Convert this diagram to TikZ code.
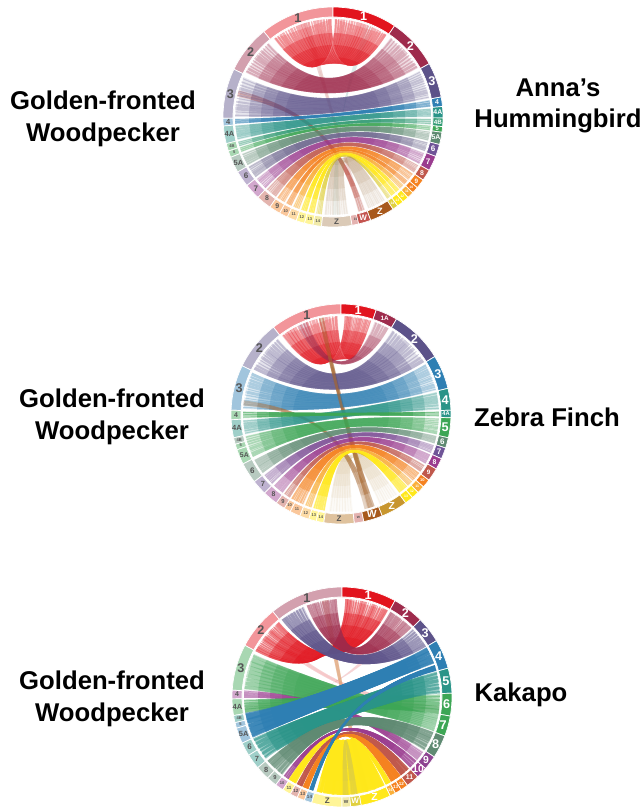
\documentclass[tikz,border=0pt]{standalone}
\usepackage{fontspec}
\setmainfont{Liberation Sans}
\definecolor{cred}{HTML}{E2141E}
\definecolor{cmar}{HTML}{9E2B4C}
\definecolor{cpur}{HTML}{5C5289}
\definecolor{cblu}{HTML}{2E7FB3}
\definecolor{cteal}{HTML}{2A9488}
\definecolor{cgrn}{HTML}{3DA655}
\definecolor{cgg}{HTML}{5F8A72}
\definecolor{cvio}{HTML}{6F5497}
\definecolor{cmag}{HTML}{9A3C8F}
\definecolor{crus}{HTML}{C0584C}
\definecolor{cora}{HTML}{F58220}
\definecolor{camb}{HTML}{FAAF3A}
\definecolor{cyel}{HTML}{FFE81A}
\definecolor{colv}{HTML}{E0D040}
\definecolor{cbro}{HTML}{A8591C}
\definecolor{cgold}{HTML}{C8962E}
\definecolor{ctan}{HTML}{B08A60}
\definecolor{cpea}{HTML}{E0A070}
\definecolor{cW}{HTML}{C4544F}
\definecolor{csea}{HTML}{8FC8C0}
\definecolor{ctxt}{HTML}{555555}
\tikzset{
  segshape/.style={draw=white,line width=.7pt},
  seglabel/.style={inner sep=0pt,font=\bfseries},
  birdname/.style={align=center,font=\fontsize{25.7}{31.5}\selectfont\bfseries,text=black,inner sep=0pt},
}
\newcommand{\segs}[4]{%
  \foreach \segA/\segB/\segC/\segT/\segF [count=\segN] in {#4}{
    \pgfmathsetmacro\segG{\segF*1.15}
    \fill[fill=\segC!#2,segshape] ({90-(\segA)}:110) arc[start angle={90-(\segA)},end angle={90-(\segB)},radius=110]
      -- ({90-(\segB)}:100) arc[start angle={90-(\segB)},end angle={90-(\segA)},radius=100] -- cycle;
    \node[seglabel,text=#3,font=\fontsize{\segG}{\segG}\selectfont\bfseries] (#1\segN) at ({90-(\segA+\segB)/2}:105) {\segT};
  }}
\def\ribE{.7}\def\ribC{3.2}\def\ribB{.6}\def\ribR{25}
\newcommand{\bandpath}[4]{({90-(#1)}:98) -- ({90-(#2)}:98)
      .. controls ({90-(#2)}:\ribR) and ({90-(#4)}:\ribR) .. ({90-(#4)}:98)
      -- ({90-(#3)}:98)
      .. controls ({90-(#3)}:\ribR) and ({90-(#1)}:\ribR) .. cycle}
\newcommand{\bund}[7]{%
  \pgfmathsetmacro\rOp{#7*\ribB}
  \fill[#5,opacity=\rOp] \bandpath{#1}{#2}{#3}{#4};
  \foreach \rR in {84,72,60,48}{
    \begin{scope}
      \clip (0,0) circle[radius=\rR];
      \fill[#5,opacity=#7] \bandpath{#1}{#2}{#3}{#4};
    \end{scope}
  }
  \foreach \i in {1,...,#6}{
    \pgfmathsetmacro\rT{(\i-.5)/#6}
    \pgfmathsetmacro\rH{.5/#6}
    \pgfmathsetmacro\rE{\rH*\ribE*(.3+1.4*rnd)}
    \pgfmathsetmacro\rC{\rH*\ribC}
    \pgfmathsetmacro\rAa{#1+(#2-(#1))*(\rT-\rE)}
    \pgfmathsetmacro\rAb{#1+(#2-(#1))*(\rT+\rE)}
    \pgfmathsetmacro\rCa{#1+(#2-(#1))*max(\rT-\rC,0)}
    \pgfmathsetmacro\rCb{#1+(#2-(#1))*min(\rT+\rC,1)}
    \pgfmathsetmacro\rBa{#3+(#4-(#3))*(\rT-\rE)}
    \pgfmathsetmacro\rBb{#3+(#4-(#3))*(\rT+\rE)}
    \pgfmathsetmacro\rDa{#3+(#4-(#3))*max(\rT-\rC,0)}
    \pgfmathsetmacro\rDb{#3+(#4-(#3))*min(\rT+\rC,1)}
    \fill[#5,opacity=#7] ({90-(\rAa)}:98) -- ({90-(\rAb)}:98)
      .. controls ({90-(\rCb)}:\ribR) and ({90-(\rDb)}:\ribR) .. ({90-(\rBb)}:98)
      -- ({90-(\rBa)}:98)
      .. controls ({90-(\rDa)}:\ribR) and ({90-(\rCa)}:\ribR) .. cycle;
  }}
\begin{document}
\begin{tikzpicture}[x=1pt,y=1pt]
\useasboundingbox (0,0) rectangle (643,807);
\fill[white] (0,0) rectangle (643,807);
\pgfmathsetseed{11}
%---------- circle 1
\begin{scope}[shift={(333,690)}]
\bund{-14}{-18}{162}{165}{crus}{2}{.05}
\bund{20}{24}{176}{180}{csea}{2}{.07}
\bund{-74}{-78}{161}{165}{crus}{3}{.3}
\def\ribR{42}
\bund{-37}{-1}{1}{33}{cred}{20}{.34}
\def\ribR{34}
\bund{-41}{-63}{36}{60}{cmar}{12}{.27}
\def\ribR{25}
\bund{-66}{-90}{62}{79}{cpur}{12}{.25}
\bund{-91}{-94}{80}{84}{cblu}{3}{.45}
\bund{-95}{-103.5}{85}{90}{cteal}{6}{.3}
\bund{-104.5}{-107.5}{91}{94.5}{cteal!60!cgrn}{3}{.35}
\bund{-108}{-111}{95}{98}{cgrn}{3}{.35}
\bund{-112}{-119.5}{98.5}{104}{cgg}{6}{.3}
\bund{-120.5}{-128}{105}{110.5}{cvio!70!cgg}{6}{.3}
\bund{-129}{-136.5}{111.5}{118.5}{cmag}{6}{.3}
\bund{-137.5}{-144.5}{119.5}{124.5}{crus}{6}{.3}
\bund{-145.5}{-150.5}{125.5}{130}{cora}{5}{.35}
\bund{-151.5}{-155}{130.5}{133.5}{cora}{4}{.4}
\bund{-156}{-160}{134}{137}{camb}{4}{.45}
\bund{-161}{-164.5}{137.5}{140}{cyel}{4}{.5}
\bund{-165.5}{-169}{140.5}{143.5}{cyel}{4}{.5}
\bund{-170}{-173.5}{144}{146.5}{colv}{4}{.4}
\def\ribE{.45}
\bund{-189}{-175}{148}{159}{ctan}{10}{.13}
\def\ribE{.7}
\segs{aL}{45}{ctxt}{0/-39/cred/1/11,-39/-64.3/cmar/2/11,-64.3/-90.7/cpur/3/11,-90.7/-94.7/cblu/4/6.5,-94.7/-104/cteal/4A/6.5,-104/-108/cgrn/4B/3.5,-108/-111.5/cgrn/5/3.5,-111.5/-120/cgg/5A/6.5,-120/-128.5/cvio/6/7,-128.5/-137/cmag/7/7,-137/-145/crus/8/6,-145/-151/cora/9/6,-151/-155.5/cora/10/3.5,-155.5/-160.5/camb/11/3.5,-160.5/-165/cyel/12/3.5,-165/-169.5/cyel/13/3.5,-169.5/-174/colv/14/3.5,-190/-174/ctan/Z/7,-195/-190/cW/19/3}
\segs{aR}{100}{white}{0/34/cred/1/11,34/61/cmar/2/11,61/79.5/cpur/3/11,79.5/84.5/cblu/4/6,84.5/90.5/cteal/4A/6,90.5/95/cteal!60!cgrn/4B/5.5,95/98/cgrn/5/5,98/104.5/cgg/5A/6,104.5/111/cvio/6/7,111/119/cmag/7/7,119/125/crus/8/6,125/130/cora/9/5.5,130/133.5/cora/10/3,133.5/137/camb/11/3,137/140.5/cyel/12/3,140.5/144/cyel/13/3,144/147/colv/14/3,147/160/cbro/Z/8,160/166.5/cW/W/7}
\end{scope}
%---------- circle 2
\begin{scope}[shift={(341,393)}]
\def\ribR{42}
\bund{-10}{-13}{160}{164}{cbro!60!ctan}{3}{.18}
\bund{-37}{-2}{2}{18}{cred}{18}{.34}
\bund{-20}{-26}{20}{29}{cmar}{4}{.25}
\def\ribR{34}
\bund{-40}{-63}{31.5}{58}{cpur}{12}{.27}
\def\ribR{25}
\bund{-65}{-87}{59.5}{76}{cblu}{12}{.27}
\bund{-10}{-13}{160}{164}{cbro!60!ctan}{3}{.16}
\bund{-82}{-85}{161}{166}{cbro!60!ctan}{3}{.2}
\bund{-93.5}{-102}{77}{87.5}{cteal}{6}{.3}
\bund{-88.5}{-92.5}{88.5}{91.5}{cgrn}{3}{.5}
\bund{-103}{-116}{92.5}{102}{cgrn}{9}{.3}
\bund{-118}{-127}{103}{107.5}{cgg}{6}{.3}
\bund{-128.5}{-135.5}{108.5}{113.5}{cvio!70!cmag}{6}{.3}
\bund{-137}{-143.5}{114.5}{120.5}{cmag}{6}{.3}
\bund{-144.5}{-148.5}{121.5}{126}{crus}{4}{.35}
\bund{-149.5}{-157.5}{127}{133}{cora}{6}{.4}
\bund{-158.5}{-162.5}{133.5}{137}{camb}{4}{.45}
\bund{-163.5}{-170.5}{137.5}{143.5}{cyel}{6}{.5}
\def\ribE{.3}
\bund{-187}{-173}{145}{157}{cgold!50!ctan}{8}{.07}
\def\ribE{.7}
\segs{bL}{45}{ctxt}{0/-37.9/cred/1/11,-37.9/-64/cpur/2/11,-64/-88/cblu/3/11,-88/-93/cgrn/4/6,-93/-102.5/cteal/4A/6.5,-102.5/-106/cgg/4B/3.5,-106/-109/cgrn/5/3.5,-109/-117/cgrn/5A/6,-117/-128/cgg/6/7,-128/-136/cvio/7/6.5,-136/-144/cmag/8/6,-144/-149/crus/9/5,-149/-152.5/cora/10/3.5,-152.5/-158/cora/11/3.5,-158/-163/camb/12/3.5,-163/-167/cyel/13/3.5,-167/-171/cyel/14/3.5,-187/-171/cbro!50!cgold/Z/7,-192/-187/cW/w/3.5}
\segs{bR}{100}{white}{0/18.7/cred/1/11,18.7/30.3/cmar/1A/5.5,30.3/58.5/cpur/2/11,58.5/76.5/cblu/3/11,76.5/88/cteal/4/11,88/92/cteal/4A/5,92/102.5/cgrn/5/11,102.5/108/cgg/6/7,108/114/cvio/7/7,114/120/cmag/8/6,120/127/crus/9/5.5,127/131.5/cora/10/3.5,131.5/135.5/camb/11/3,135.5/139.5/cyel/12/3,139.5/144/cyel/13/3,144/158/cgold/Z/9,158/168/cbro/W/9}
\end{scope}
%---------- circle 3
\begin{scope}[shift={(342,110)}]
\bund{-48}{-52}{95}{100}{cred}{3}{.04}
\bund{35}{40}{-100}{-95}{cred}{3}{.03}
\bund{-8}{-12}{164}{168}{cpea}{3}{.2}
\bund{-86}{-90.5}{124}{130}{cmag}{4}{.4}
\def\ribE{.8}\def\ribR{38}
\bund{-62}{-40}{2}{28}{cred}{18}{.42}
\bund{-3}{-21}{29.5}{45}{cmar}{12}{.4}
\bund{-23}{-38}{46}{59}{cpur}{8}{.45}
\def\ribB{.9}\def\ribE{.9}\def\ribR{55}
\bund{-64}{-85.5}{100.5}{110.5}{cgrn}{9}{.3}
\bund{-91.5}{-99}{88.5}{100}{cgrn}{5}{.45}
\bund{-115}{-129}{75}{88}{cteal}{6}{.55}
\def\ribR{25}
\bund{-130.5}{-142.5}{111}{123}{cgg}{6}{.55}
\bund{-143.5}{-147}{130.5}{136}{cmag}{3}{.6}
\def\ribR{55}
\bund{-100}{-114.5}{60}{70}{cblu}{5}{.75}
\def\ribE{1}\def\ribB{1}\def\ribR{25}
\bund{-147.5}{-152}{150.5}{153.5}{cyel}{2}{.9}
\bund{-152.5}{-156}{137}{143}{crus}{2}{.9}
\bund{-156.5}{-160}{143.5}{150}{cora}{2}{.95}
\bund{-184}{-165}{155}{176}{cyel}{4}{.9}
\bund{-180.5}{-184}{171}{175}{colv}{2}{.5}
\bund{-160.5}{-163}{71}{74.5}{cblu}{2}{1}
\def\ribE{.7}\def\ribB{.6}
\segs{cL}{45}{ctxt}{0/-39/cmar/1/11,-39/-62/cred/2/11,-62/-86.4/cgrn/3/11,-86.4/-91/cmag/4/6,-91/-99.7/cgrn/4A/6.5,-99.7/-103.5/cteal/4B/3.5,-103.5/-106.5/cblu/5/3.5,-106.5/-114.8/cblu/5A/6.5,-114.8/-122/cteal/6/7,-122/-130/cteal/7/6.5,-130/-137.5/cgg/8/6.5,-137.5/-143/cgg/9/5,-143/-147.5/cmag/10/3.5,-147.5/-152/cyel/11/4,-152/-156/crus/12/4,-156/-160/cora/13/4,-160/-164/cblu/14/4,-180/-164/cyel/Z/7,-184.5/-180/colv/w/5}
\segs{cR}{100}{white}{0/28.8/cred/1/11,28.8/45.4/cmar/2/11,45.4/59.2/cpur/3/11,59.2/74.8/cblu/4/11,74.8/88/cteal/5/11,88/100/cgrn/6/11,100/110.8/cgrn/7/11,110.8/123/cgg/8/11,123/130.6/cmag!70!cvio/9/9,130.6/136.5/cmag/10/9,136.5/143.5/crus/11/6,143.5/147.5/cora/12/4,147.5/151/cora/13/4,151/154/camb/14/3.5,154/170/cyel/Z/9,170/175.5/colv/W/7}
\end{scope}
%---------- names
\node[birdname] (g1) at (103,688) {Golden-fronted\\Woodpecker};
\node[birdname] (h1) at (558,701) {Anna’s\\Hummingbird};
\node[birdname] (g2) at (112,390) {Golden-fronted\\Woodpecker};
\node[birdname] (z1) at (547,390) {Zebra Finch};
\node[birdname] (g3) at (112,108) {Golden-fronted\\Woodpecker};
\node[birdname] (k1) at (521,112) {Kakapo};
\end{tikzpicture}
\end{document}
